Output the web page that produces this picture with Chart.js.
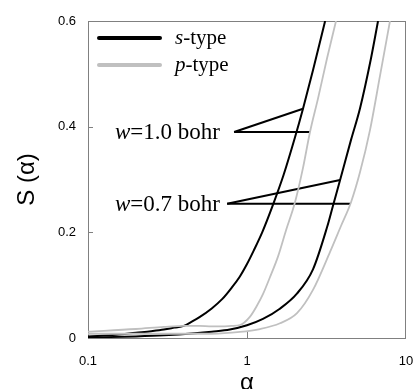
<!DOCTYPE html>
<html><head><meta charset="utf-8">
<script src="https://cdn.jsdelivr.net/npm/chart.js@4/dist/chart.umd.min.js"></script>
<style>html,body{margin:0;padding:0;background:#fff;}#wrap{width:414px;height:389px;}</style>
</head><body><div id="wrap"><canvas id="c" width="414" height="389"></canvas></div>
<script>
// ---- data ----
const sW10Alpha = [0.1, 0.15, 0.2, 0.25, 0.3, 0.35, 0.4, 0.45, 0.5, 0.6, 0.7, 0.8, 0.9, 1.0, 1.1, 1.25, 1.46, 1.7, 2.0, 2.25, 2.6, 3.1];
const sW10Val   = [0.003, 0.006, 0.01, 0.013, 0.016, 0.0197, 0.023, 0.031, 0.039, 0.056, 0.074, 0.095, 0.116, 0.14, 0.165, 0.201, 0.253, 0.309, 0.379, 0.434, 0.507, 0.6];
const pW10Alpha = [0.1, 0.2, 0.3, 0.4, 0.5, 0.6, 0.7, 0.8, 0.903, 1.042, 1.154, 1.26, 1.39, 1.57, 1.76, 2.0, 2.25, 2.49, 2.8, 3.19, 3.63];
const pW10Val   = [0.012, 0.017, 0.021, 0.023, 0.023, 0.022, 0.022, 0.023, 0.0246, 0.04, 0.061, 0.083, 0.114, 0.155, 0.204, 0.256, 0.322, 0.39, 0.454, 0.53, 0.6];
const sW07Alpha = [0.1, 0.2, 0.3, 0.47, 0.6, 0.78, 1.0, 1.26, 1.6, 2.06, 2.6, 3.19, 3.47, 3.85, 4.51, 5.14, 6.03, 6.67];
const sW07Val   = [0.001, 0.003, 0.005, 0.009, 0.012, 0.016, 0.024, 0.036, 0.055, 0.084, 0.13, 0.21, 0.25, 0.299, 0.375, 0.435, 0.53, 0.6];
const pW07Alpha = [0.1, 0.3, 0.6, 0.903, 1.207, 1.613, 2.063, 2.6, 3.33, 3.9, 4.51, 5.14, 5.94, 6.86, 7.93];
const pW07Val   = [0.008, 0.008, 0.008, 0.0114, 0.017, 0.028, 0.047, 0.091, 0.163, 0.212, 0.257, 0.314, 0.394, 0.496, 0.6];
const xTicks = [0.1, 1, 10];
const yTicks = [0, 0.2, 0.4, 0.6];
const legendLabels = [['s', '-type'], ['p', '-type']];
const annotLabels = [['w', '=1.0 bohr'], ['w', '=0.7 bohr']];
const lead10Start = [0.83, 0.39];
const lead10Ends  = [[2.25, 0.434], [2.49, 0.39]];
const lead07Start = [0.75, 0.254];
const lead07Ends  = [[3.85, 0.299], [4.5, 0.254]];

const pts = (xs, ys) => xs.map((v, i) => ({x: v, y: ys[i]}));
const BLACK = '#000000', GRAY = '#c0c0c0';
function curve(xs, ys, color, w) {
  return {data: pts(xs, ys), borderColor: color, borderWidth: w, pointRadius: 0,
          fill: false, cubicInterpolationMode: 'monotone'};
}
function leader(start, end) {
  return {data: [{x: start[0], y: start[1]}, {x: end[0], y: end[1]}], borderColor: BLACK,
          borderWidth: 2, pointRadius: 0, fill: false, tension: 0};
}
const datasets = [
  curve(pW10Alpha, pW10Val, GRAY, 1.8),
  curve(pW07Alpha, pW07Val, GRAY, 1.8),
  curve(sW10Alpha, sW10Val, BLACK, 2),
  curve(sW07Alpha, sW07Val, BLACK, 2),
  ...lead10Ends.map(e => leader(lead10Start, e)),
  ...lead07Ends.map(e => leader(lead07Start, e)),
];

function drawMixed(ctx, parts, x, y, size) {
  ctx.font = 'italic ' + size + 'px "Liberation Serif"';
  ctx.fillText(parts[0], x, y);
  x += ctx.measureText(parts[0]).width;
  ctx.font = size + 'px "Liberation Serif"';
  ctx.fillText(parts[1], x, y);
}

const deco = {
  id: 'deco',
  beforeDatasetsDraw(chart) {
    const {ctx, chartArea: a, scales: {x, y}} = chart;
    ctx.save();
    ctx.strokeStyle = '#808080'; ctx.lineWidth = 1;
    ctx.strokeRect(Math.round(a.left) + 0.5, Math.round(a.top) + 0.5,
                   Math.round(a.right - a.left) - 1, Math.round(a.bottom - a.top));
    ctx.beginPath();
    yTicks.slice(1, -1).forEach(v => { const py = Math.round(y.getPixelForValue(v)) + 0.5;
      ctx.moveTo(a.left, py); ctx.lineTo(a.left + 5, py); });
    xTicks.slice(1, -1).forEach(v => { const px = Math.round(x.getPixelForValue(v)) + 0.5;
      ctx.moveTo(px, a.bottom); ctx.lineTo(px, a.bottom - 6); });
    ctx.stroke();
    ctx.restore();
  },
  afterDraw(chart) {
    const {ctx, chartArea: a, scales: {x, y}} = chart;
    ctx.save();
    // legend
    ctx.lineCap = 'round';
    [[BLACK, 38], [GRAY, 65]].forEach(([c, py], i) => {
      ctx.strokeStyle = c; ctx.lineWidth = 4;
      ctx.beginPath(); ctx.moveTo(99, py); ctx.lineTo(160, py); ctx.stroke();
      ctx.fillStyle = '#000'; ctx.textBaseline = 'middle'; ctx.textAlign = 'left';
      drawMixed(ctx, legendLabels[i], 175, py, 21);
    });
    // annotations
    ctx.fillStyle = '#000'; ctx.textBaseline = 'middle';
    drawMixed(ctx, annotLabels[0], 115, y.getPixelForValue(lead10Start[1]) + 1, 23);
    drawMixed(ctx, annotLabels[1], 115, y.getPixelForValue(lead07Start[1]) + 1, 23);
    // axis titles
    ctx.font = '24px "Liberation Sans"';
    ctx.textAlign = 'center'; ctx.textBaseline = 'alphabetic';
    ctx.fillText('\u03b1', (a.left + a.right) / 2, 390);
    ctx.translate(34, (a.top + a.bottom) / 2);
    ctx.rotate(-Math.PI / 2);
    ctx.fillText('S (\u03b1)', 0, 0);
    ctx.restore();
  }
};

new Chart(document.getElementById('c'), {
  type: 'line',
  data: {datasets},
  plugins: [deco],
  options: {
    responsive: false, devicePixelRatio: 1, animation: false,
    layout: {padding: {top: 21, right: 8, left: 0, bottom: 0}},
    plugins: {legend: {display: false}, tooltip: {enabled: false}},
    scales: {
      x: {type: 'logarithmic', min: 0.1, max: 10, bounds: 'data',
          grid: {display: false, drawTicks: false}, border: {display: false},
          afterBuildTicks: s => { s.ticks = xTicks.map(v => ({value: v})); },
          afterFit: s => { s.height = 51; s.paddingLeft = 0; s.paddingRight = 0; },
          ticks: {padding: 16, color: '#000', maxRotation: 0, autoSkip: false,
                  font: {family: 'Liberation Sans', size: 13},
                  callback: v => String(v)}},
      y: {type: 'linear', min: 0, max: 0.6,
          grid: {display: false, drawTicks: false}, border: {display: false},
          afterBuildTicks: s => { s.ticks = yTicks.map(v => ({value: v})); },
          afterFit: s => { s.width = 88; s.paddingTop = 0; s.paddingBottom = 0; },
          ticks: {padding: 12, color: '#000',
                  font: {family: 'Liberation Sans', size: 13},
                  callback: v => String(v)}}
    }
  }
});
</script></body></html>
